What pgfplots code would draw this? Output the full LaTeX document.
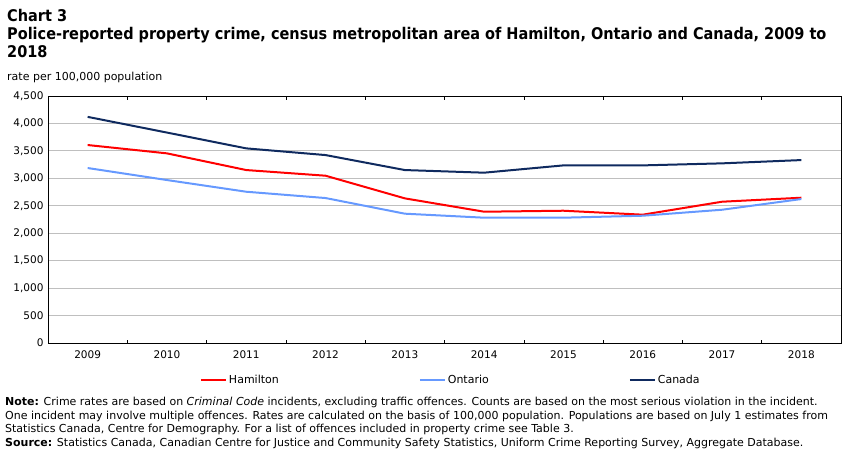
\documentclass[border=0pt]{standalone}
\usepackage{fontspec}
\setmainfont{DejaVu Sans}
\newfontfamily\condfont{DejaVu Sans Condensed}
\usepackage{pgfplots}
\pgfplotsset{compat=1.18}
\definecolor{ham}{HTML}{FF0000}
\definecolor{ont}{HTML}{6699FF}
\definecolor{can}{HTML}{0F2A5F}
\definecolor{gridgray}{HTML}{BFBFBF}

\pgfplotstableread{
x ham ont can
0 3607 3188 4120
1 3455 2969 3834
2 3151 2756 3546
3 3048 2641 3424
4 2635 2356 3151
5 2392 2283 3103
6 2410 2283 3236
7 2338 2319 3236
8 2574 2428 3273
9 2647 2623 3333
}\datatable

\begin{document}
\begin{tikzpicture}[x=1pt,y=1pt]
\path[use as bounding box] (0,0) rectangle (851,-455);
\node[anchor=base west, inner sep=0, font=\condfont\bfseries\fontsize{16.1}{18}\selectfont] at (7,-21.5) {Chart 3};
\node[anchor=base west, inner sep=0, font=\condfont\bfseries\fontsize{16.1}{18}\selectfont] at (7,-39.5) {Police-reported property crime, census metropolitan area of Hamilton, Ontario and Canada, 2009 to};
\node[anchor=base west, inner sep=0, font=\condfont\bfseries\fontsize{16.1}{18}\selectfont] at (7,-57.5) {2018};
\node[anchor=base west, inner sep=0, font=\fontsize{11}{13}\selectfont] at (7,-80.5) {rate per 100,000 population};
\begin{axis}[
  at={(48pt,-343pt)}, anchor=south west,
  scale only axis, width=793pt, height=247pt,
  xmin=-0.5, xmax=9.5, ymin=0, ymax=4500,
  ytick={0,500,...,4500},
  ymajorgrids, grid style={gridgray, line width=0.8pt},
  axis line style={black, line width=0.9pt},
  ytick style={draw=none},
  xtick={0.5,1.5,...,8.5}, xticklabels={},
  xtick style={black, line width=0.6pt},
  major tick length=3.5pt, tick align=inside,
  extra x ticks={0,1,...,9},
  extra x tick labels={2009,2010,2011,2012,2013,2014,2015,2016,2017,2018},
  extra x tick style={major tick length=0pt, grid=none},
  ticklabel style={font=\fontsize{10.5}{12}\selectfont, text=black},
  xticklabel style={yshift=-4pt},
  yticklabel style={xshift=-1pt},
  /pgf/number format/.cd, 1000 sep={,}, assume math mode=true,
  /pgfplots/.cd,
  legend columns=3,
  legend style={draw=none, fill=none, at={(0.508,-0.15)}, anchor=center,
    font=\fontsize{11}{12}\selectfont,
    /tikz/every odd column/.append style={column sep=0pt},
    /tikz/every even column/.append style={column sep=138pt}},
  legend image code/.code={\draw[#1] (0pt,0pt) -- (25pt,0pt);},
]
\addplot[ham, line width=2pt] table[x=x,y=ham] {\datatable};
\addlegendentry{Hamilton}
\addplot[ont, line width=2pt] table[x=x,y=ont] {\datatable};
\addlegendentry{Ontario}
\addplot[can, line width=2pt] table[x=x,y=can] {\datatable};
\addlegendentry{Canada}
\end{axis}
\node[anchor=base west, inner sep=0, font=\fontsize{11}{13.5}\selectfont, align=left] at (5,-446) {\textbf{Note:} Crime rates are based on \textit{Criminal Code} incidents, excluding traffic offences. Counts are based on the most serious violation in the incident.\\One incident may involve multiple offences. Rates are calculated on the basis of 100,000 population. Populations are based on July 1 estimates from\\Statistics Canada, Centre for Demography. For a list of offences included in property crime see Table 3.\\\textbf{Source:} Statistics Canada, Canadian Centre for Justice and Community Safety Statistics, Uniform Crime Reporting Survey, Aggregate Database.};
\end{tikzpicture}
\end{document}
